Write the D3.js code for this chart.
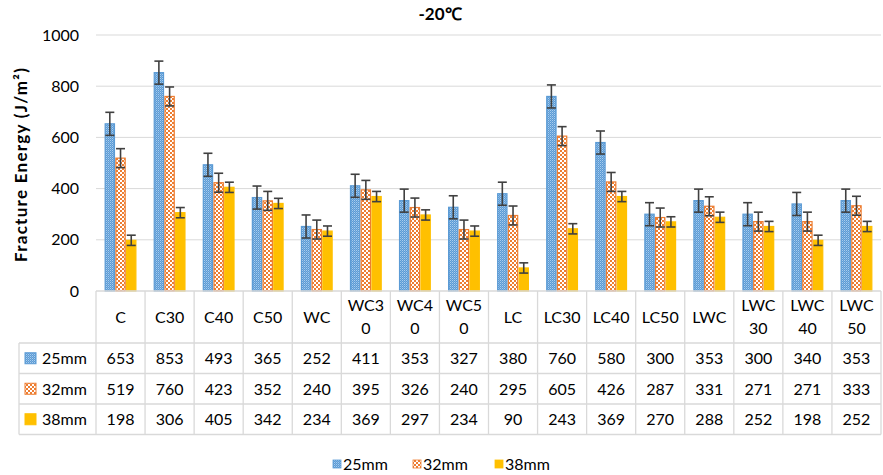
<!DOCTYPE html>
<html>
<head>
<meta charset="utf-8">
<script src="https://cdn.jsdelivr.net/npm/d3@7"></script>
<style>
  html, body { margin: 0; padding: 0; background: #fff; }
  svg { display: block; font-family: Lato, "Open Sans", sans-serif; }
</style>
</head>
<body>
<svg id="chart" width="883" height="475"></svg>
<script>
// Fracture energy at -20℃ for each mix, three specimen sizes
const categories = ["C","C30","C40","C50","WC","WC30","WC40","WC50","LC","LC30","LC40","LC50","LWC","LWC30","LWC40","LWC50"];
const headerLines = [["C"],["C30"],["C40"],["C50"],["WC"],["WC3","0"],["WC4","0"],["WC5","0"],["LC"],["LC30"],["LC40"],["LC50"],["LWC"],["LWC","30"],["LWC","40"],["LWC","50"]];
const seriesNames = ["25mm","32mm","38mm"];
const values25 = [653,853,493,365,252,411,353,327,380,760,580,300,353,300,340,353];
const values32 = [519,760,423,352,240,395,326,240,295,605,426,287,331,271,271,333];
const values38 = [198,306,405,342,234,369,297,234,90,243,369,270,288,252,198,252];
const errorSizes = [45,37,20];
const yTicks = [0,200,400,600,800,1000];
const titleText = "-20℃";

const seriesValues = [values25, values32, values38];

const svg = d3.select("#chart");
const plotLeft = 96, plotRight = 881, plotTop = 35, plotBottom = 291;
const headerH = 52, rowH = 30.5, keyColLeft = 19;

const x = d3.scaleBand().domain(categories).range([plotLeft, plotRight]).padding(0);
const xs = d3.scaleBand().domain(seriesNames).range([0, x.bandwidth()])
  .paddingOuter(0.8).paddingInner(0.02);
const y = d3.scaleLinear().domain([0, 1000]).range([plotBottom, plotTop]);

// fill patterns for the bars
const defs = svg.append("defs");
const pBlue = defs.append("pattern").attr("id", "pat25")
  .attr("patternUnits", "userSpaceOnUse").attr("width", 2).attr("height", 2);
pBlue.append("rect").attr("width", 2).attr("height", 2).attr("fill", "#5b9bd5");
pBlue.append("rect").attr("width", 1).attr("height", 1).attr("fill", "#a9cdee");
pBlue.append("rect").attr("x", 1).attr("y", 1).attr("width", 1).attr("height", 1).attr("fill", "#7fb1e0");

const pOrange = defs.append("pattern").attr("id", "pat32")
  .attr("patternUnits", "userSpaceOnUse").attr("width", 4).attr("height", 4);
pOrange.append("rect").attr("width", 4).attr("height", 4).attr("fill", "#ed7d31");
pOrange.append("rect").attr("width", 2).attr("height", 2).attr("fill", "#ffffff");
pOrange.append("rect").attr("x", 2).attr("y", 2).attr("width", 2).attr("height", 2).attr("fill", "#ffffff");

const fills = ["url(#pat25)", "url(#pat32)", "#ffc000"];
const strokes = ["#5b9bd5", "#ed7d31", "#ffc000"];

// title
svg.append("text").attr("x", 440).attr("y", 20).attr("text-anchor", "middle")
  .attr("font-size", 17).attr("font-weight", "bold").attr("fill", "#000").text(titleText);

// gridlines
svg.append("g").selectAll("line").data(yTicks.filter(d => d > 0)).join("line")
  .attr("x1", plotLeft).attr("x2", plotRight)
  .attr("y1", d => y(d)).attr("y2", d => y(d))
  .attr("stroke", "#d9d9d9").attr("stroke-width", 1);

// y axis labels
const yAxis = svg.append("g").attr("transform", `translate(${plotLeft},0)`)
  .call(d3.axisLeft(y).tickValues(yTicks).tickSize(0).tickPadding(17).tickFormat(d3.format("d")));
yAxis.select(".domain").remove();
yAxis.selectAll("text").attr("font-size", 16).attr("fill", "#000")
  .attr("font-family", "Lato, sans-serif");

// y axis title
svg.append("text").attr("transform", "translate(27,165) rotate(-90)")
  .attr("text-anchor", "middle").attr("font-size", 17).attr("font-weight", "bold").attr("fill", "#000")
  .attr("textLength", 194).attr("lengthAdjust", "spacing")
  .text("Fracture Energy (J/m²)");

// bars
const barGroups = svg.append("g").selectAll("g").data(seriesNames).join("g");
barGroups.each(function(s, si) {
  const g = d3.select(this);
  const vals = seriesValues[si];
  g.selectAll("rect").data(categories).join("rect")
    .attr("x", c => x(c) + xs(s) + 0.6)
    .attr("width", xs.bandwidth() - 1.2)
    .attr("y", (c, i) => y(vals[i]))
    .attr("height", (c, i) => y(0) - y(vals[i]))
    .attr("fill", fills[si]).attr("stroke", strokes[si]).attr("stroke-width", 1.2);
});

// error bars
barGroups.each(function(s, si) {
  const g = d3.select(this).append("g").attr("stroke", "#404040").attr("stroke-width", 1.6);
  const vals = seriesValues[si];
  const e = errorSizes[si];
  const cx = c => x(c) + xs(s) + xs.bandwidth() / 2;
  g.selectAll(".v").data(categories).join("line").attr("class", "v")
    .attr("x1", cx).attr("x2", cx)
    .attr("y1", (c, i) => y(vals[i] + e)).attr("y2", (c, i) => y(vals[i] - e));
  g.selectAll(".t").data(categories).join("line").attr("class", "t")
    .attr("x1", c => cx(c) - 4.5).attr("x2", c => cx(c) + 4.5)
    .attr("y1", (c, i) => y(vals[i] + e)).attr("y2", (c, i) => y(vals[i] + e));
  g.selectAll(".b").data(categories).join("line").attr("class", "b")
    .attr("x1", c => cx(c) - 4.5).attr("x2", c => cx(c) + 4.5)
    .attr("y1", (c, i) => y(vals[i] - e)).attr("y2", (c, i) => y(vals[i] - e));
});

// data table
const table = svg.append("g");
const gridColor = "#d9d9d9";
const rowTop = i => plotBottom + headerH + i * rowH;
const tableBottom = rowTop(3);

// horizontal rules
table.append("line").attr("x1", plotLeft).attr("x2", plotRight)
  .attr("y1", plotBottom).attr("y2", plotBottom).attr("stroke", gridColor).attr("stroke-width", 1.3);
[0, 1, 2, 3].forEach(i => {
  table.append("line").attr("x1", keyColLeft).attr("x2", plotRight)
    .attr("y1", rowTop(i)).attr("y2", rowTop(i)).attr("stroke", gridColor).attr("stroke-width", 1.3);
});
// vertical rules
table.append("line").attr("x1", keyColLeft).attr("x2", keyColLeft)
  .attr("y1", rowTop(0)).attr("y2", tableBottom).attr("stroke", gridColor).attr("stroke-width", 1.3);
categories.forEach(c => {
  table.append("line").attr("x1", x(c)).attr("x2", x(c))
    .attr("y1", plotBottom).attr("y2", tableBottom).attr("stroke", gridColor).attr("stroke-width", 1.3);
});
table.append("line").attr("x1", plotRight).attr("x2", plotRight)
  .attr("y1", plotBottom).attr("y2", tableBottom).attr("stroke", gridColor).attr("stroke-width", 1.3);

// header labels
categories.forEach((c, i) => {
  const lines = headerLines[i];
  const cy = plotBottom + headerH / 2;
  const lh = 23;
  lines.forEach((ln, k) => {
    table.append("text").attr("x", x(c) + x.bandwidth() / 2)
      .attr("y", cy + (k - (lines.length - 1) / 2) * lh)
      .attr("dy", "0.36em").attr("text-anchor", "middle")
      .attr("font-size", 16).attr("fill", "#000").text(ln);
  });
});

// value rows
seriesNames.forEach((s, si) => {
  const cy = rowTop(si) + rowH / 2;
  table.append("rect").attr("x", 25).attr("y", cy - 5.5).attr("width", 11).attr("height", 11)
    .attr("fill", fills[si]).attr("stroke", strokes[si]).attr("stroke-width", 1);
  table.append("text").attr("x", 42).attr("y", cy).attr("dy", "0.36em")
    .attr("font-size", 16).attr("fill", "#000").text(s);
  categories.forEach((c, i) => {
    table.append("text").attr("x", x(c) + x.bandwidth() / 2).attr("y", cy).attr("dy", "0.36em")
      .attr("text-anchor", "middle").attr("font-size", 16).attr("fill", "#000")
      .text(seriesValues[si][i]);
  });
});

// legend
const legendX = [333, 413, 495];
const legend = svg.append("g");
seriesNames.forEach((s, si) => {
  legend.append("rect").attr("x", legendX[si]).attr("y", 460).attr("width", 8).attr("height", 8)
    .attr("fill", fills[si]).attr("stroke", strokes[si]).attr("stroke-width", 0.8);
  legend.append("text").attr("x", legendX[si] + 10).attr("y", 464).attr("dy", "0.36em")
    .attr("font-size", 16).attr("fill", "#000").text(s);
});
</script>
</body>
</html>
